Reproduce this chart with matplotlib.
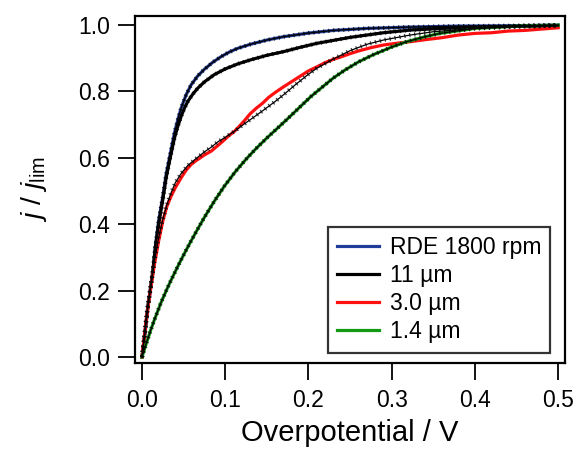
import matplotlib
matplotlib.use("Agg")
import matplotlib.pyplot as plt

plt.rcParams['font.family'] = ['Liberation Sans', 'DejaVu Sans']
plt.rcParams['mathtext.fontset'] = 'custom'
plt.rcParams['mathtext.rm'] = 'Liberation Sans'
plt.rcParams['mathtext.it'] = 'Liberation Sans:italic'

# RDE 1800 rpm
rde_v = [0, 0.004, 0.007, 0.010, 0.013, 0.016, 0.020, 0.025, 0.029, 0.033, 0.039, 0.043,
         0.047, 0.053, 0.059, 0.067, 0.075, 0.085, 0.095, 0.105, 0.115, 0.130, 0.150,
         0.170, 0.200, 0.230, 0.270, 0.320, 0.380, 0.440, 0.500]
rde_j = [0, 0.08, 0.152, 0.20, 0.253, 0.33, 0.41, 0.483, 0.55, 0.60, 0.675, 0.715,
         0.75, 0.79, 0.82, 0.847, 0.867, 0.888, 0.905, 0.919, 0.930, 0.942, 0.955,
         0.965, 0.976, 0.984, 0.990, 0.994, 0.997, 0.998, 1.0]

# 11 um
e11_v = [0, 0.004, 0.007, 0.010, 0.013, 0.016, 0.020, 0.025, 0.029, 0.033, 0.039, 0.043,
         0.047, 0.051, 0.055, 0.061, 0.067, 0.075, 0.087, 0.100, 0.115, 0.130, 0.150,
         0.170, 0.190, 0.210, 0.250, 0.290, 0.322, 0.360, 0.420, 0.500]
e11_j = [0, 0.085, 0.15, 0.205, 0.26, 0.33, 0.40, 0.475, 0.54, 0.59, 0.66, 0.695,
         0.725, 0.75, 0.77, 0.792, 0.81, 0.829, 0.851, 0.868, 0.883, 0.895, 0.909,
         0.920, 0.933, 0.945, 0.963, 0.977, 0.985, 0.990, 0.995, 0.998]

# 3.0 um (measured, noisy)
e30_v = [0, 0.005, 0.010, 0.015, 0.020, 0.025, 0.030, 0.035, 0.040, 0.047, 0.053, 0.059,
         0.065, 0.070, 0.075, 0.083, 0.091, 0.097, 0.104, 0.111, 0.118, 0.124, 0.130,
         0.137, 0.145, 0.152, 0.160, 0.170, 0.180, 0.190, 0.200, 0.210, 0.220, 0.230,
         0.240, 0.250, 0.260, 0.275, 0.290, 0.305, 0.322, 0.340, 0.360, 0.380, 0.400,
         0.420, 0.440, 0.460, 0.480, 0.500]
e30_j = [0, 0.11, 0.20, 0.28, 0.35, 0.41, 0.455, 0.485, 0.51, 0.54, 0.563, 0.58,
         0.592, 0.60, 0.609, 0.62, 0.637, 0.65, 0.666, 0.68, 0.698, 0.715, 0.733,
         0.749, 0.765, 0.782, 0.797, 0.814, 0.83, 0.846, 0.862, 0.874, 0.887, 0.897,
         0.905, 0.914, 0.922, 0.932, 0.94, 0.945, 0.95, 0.956, 0.962, 0.97, 0.975,
         0.977, 0.982, 0.984, 0.988, 0.992]

# 3.0 um fit
f30_v = [0, 0.005, 0.010, 0.015, 0.020, 0.025, 0.030, 0.035, 0.040, 0.047, 0.055, 0.065,
         0.075, 0.083, 0.091, 0.100, 0.111, 0.120, 0.130, 0.145, 0.160, 0.170, 0.185,
         0.200, 0.210, 0.230, 0.250, 0.270, 0.290, 0.322, 0.350, 0.400, 0.450, 0.500]
f30_j = [0, 0.12, 0.21, 0.29, 0.36, 0.415, 0.46, 0.495, 0.525, 0.553, 0.577, 0.598,
         0.618, 0.632, 0.648, 0.662, 0.680, 0.697, 0.715, 0.742, 0.770, 0.790, 0.822,
         0.852, 0.870, 0.898, 0.923, 0.942, 0.955, 0.970, 0.980, 0.990, 0.995, 0.998]

# 1.4 um
e14_v = [0, 0.004, 0.007, 0.011, 0.015, 0.023, 0.030, 0.035, 0.041, 0.047, 0.053, 0.059,
         0.067, 0.075, 0.087, 0.099, 0.112, 0.125, 0.137, 0.150, 0.163, 0.175, 0.190,
         0.203, 0.215, 0.230, 0.244, 0.260, 0.278, 0.300, 0.318, 0.340, 0.358, 0.400,
         0.450, 0.500]
e14_j = [0, 0.032, 0.055, 0.085, 0.113, 0.165, 0.205, 0.232, 0.263, 0.293, 0.322, 0.35,
         0.386, 0.421, 0.47, 0.515, 0.558, 0.596, 0.628, 0.66, 0.69, 0.718, 0.754,
         0.785, 0.81, 0.841, 0.865, 0.889, 0.911, 0.934, 0.95, 0.965, 0.975, 0.99,
         0.997, 1.0]

labels = ['RDE 1800 rpm', '11 µm', '3.0 µm', '1.4 µm']
colors = ['#1f3c9a', '#000000', '#ff1010', '#129a12']

fig = plt.figure(figsize=(5.77, 4.57), dpi=100)
ax = fig.add_axes([0.234, 0.2057, 0.745, 0.759])

data = [(rde_v, rde_j), (e11_v, e11_j), (e30_v, e30_j), (e14_v, e14_j)]
handles = []
for (v, j), c, lab in zip(data, colors, labels):
    h, = ax.plot(v, j, color=c, lw=2.3, label=lab, solid_joinstyle='round')
    handles.append(h)

# fits drawn as black hatched lines on top
fits = [(rde_v, rde_j), (e11_v, e11_j), (f30_v, f30_j), (e14_v, e14_j)]
for v, j in fits:
    ax.plot(v, j, color='k', lw=0.9)
    ax.plot(v, j, color='k', lw=3.0, ls=(0, (0.3, 0.9)), alpha=0.75)

ax.set_xlim(-0.0084, 0.508)
ax.set_ylim(-0.018, 1.027)
ax.set_xticks([0, 0.1, 0.2, 0.3, 0.4, 0.5])
ax.set_yticks([0, 0.2, 0.4, 0.6, 0.8, 1.0])
ax.xaxis.set_major_formatter(matplotlib.ticker.FormatStrFormatter('%.1f'))
ax.yaxis.set_major_formatter(matplotlib.ticker.FormatStrFormatter('%.1f'))
ax.tick_params(direction='out', length=12, width=1.3, labelsize=16.5, color='k')
ax.tick_params(axis='x', pad=7)
ax.tick_params(axis='y', pad=6)
for s in ax.spines.values():
    s.set_linewidth(1.6)

ax.set_xlabel('Overpotential / V', fontsize=21, labelpad=5)
ax.set_ylabel(r'$j$ / $j_{\mathrm{lim}}$', fontsize=20.5, labelpad=21)

leg = ax.legend(handles=handles, loc='lower right', bbox_to_anchor=(0.966, 0.03),
                fontsize=16.5, frameon=True, fancybox=False, handlelength=1.85,
                labelspacing=0.22, borderpad=0.4, handletextpad=0.45, borderaxespad=0)
leg.get_frame().set_edgecolor('k')
leg.get_frame().set_linewidth(1.6)

fig.savefig('out.png', dpi=100)
